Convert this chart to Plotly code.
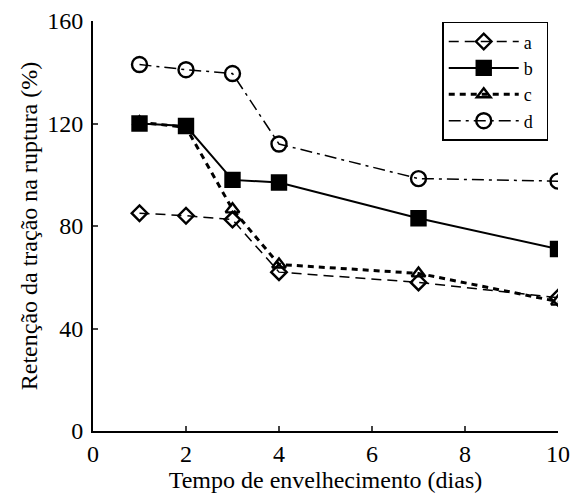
import plotly.graph_objects as go

dias = [1, 2, 3, 4, 7, 10]
serie_a = [85, 84, 82.5, 62, 58, 52]
serie_b = [120, 119, 98, 97, 83, 71]
serie_c = [120.5, 118.5, 86.5, 65, 61.5, 50.5]
serie_d = [143, 141, 139.5, 112, 98.5, 97.5]
nomes = ["a", "b", "c", "d"]
x_ticks = [0, 2, 4, 6, 8, 10]
y_ticks = [0, 40, 80, 120, 160]

estilos = [
    dict(dash="10px,6px", width=1.5, symbol="diamond-open", size=12),
    dict(dash="solid", width=2, symbol="square", size=14),
    dict(dash="6px,5px", width=3, symbol="triangle-up-open", size=12),
    dict(dash="12px,5px,3px,5px", width=1.5, symbol="circle-open", size=15),
]

fig = go.Figure()
for nome, ys, st in zip(nomes, [serie_a, serie_b, serie_c, serie_d], estilos):
    fig.add_trace(go.Scatter(
        x=dias, y=ys, name=nome + "\u00a0\u00a0", mode="lines+markers",
        line=dict(color="black", dash=st["dash"], width=st["width"]),
        marker=dict(symbol=st["symbol"], size=st["size"], color="black",
                    line=dict(color="black", width=2.4)),
    ))

fig.update_layout(
    width=572, height=501,
    margin=dict(l=93, r=14, t=21, b=70),
    paper_bgcolor="white", plot_bgcolor="white",
    font=dict(family="Liberation Serif", size=24, color="black"),
    showlegend=True,
    legend=dict(x=0.979, y=0.998, xanchor="right", yanchor="top",
                bordercolor="black", borderwidth=1.5, bgcolor="white",
                font=dict(size=18), itemwidth=70, tracegroupgap=0),
    xaxis=dict(range=[0, 10], tickvals=x_ticks, ticks="inside", ticklen=5,
               tickwidth=1.5, showline=True, linecolor="black", linewidth=2,
               showgrid=False, zeroline=False, tickfont=dict(size=24), automargin=False,
               title=dict(text="Tempo de envelhecimento (dias)", font=dict(size=24), standoff=5)),
    yaxis=dict(range=[0, 160], tickvals=y_ticks, ticks="inside", ticklen=5,
               tickwidth=1.5, showline=True, linecolor="black", linewidth=2,
               showgrid=False, zeroline=False, tickfont=dict(size=24), automargin=False,
               ticklabelstandoff=3,
               title=dict(text="Retenção da tração na ruptura (%)", font=dict(size=24), standoff=3)),
)

fig.write_html(
    "out.html",
    config={"displayModeBar": False},
    post_script="document.body.style.margin='0';document.body.style.overflow='hidden';",
)
